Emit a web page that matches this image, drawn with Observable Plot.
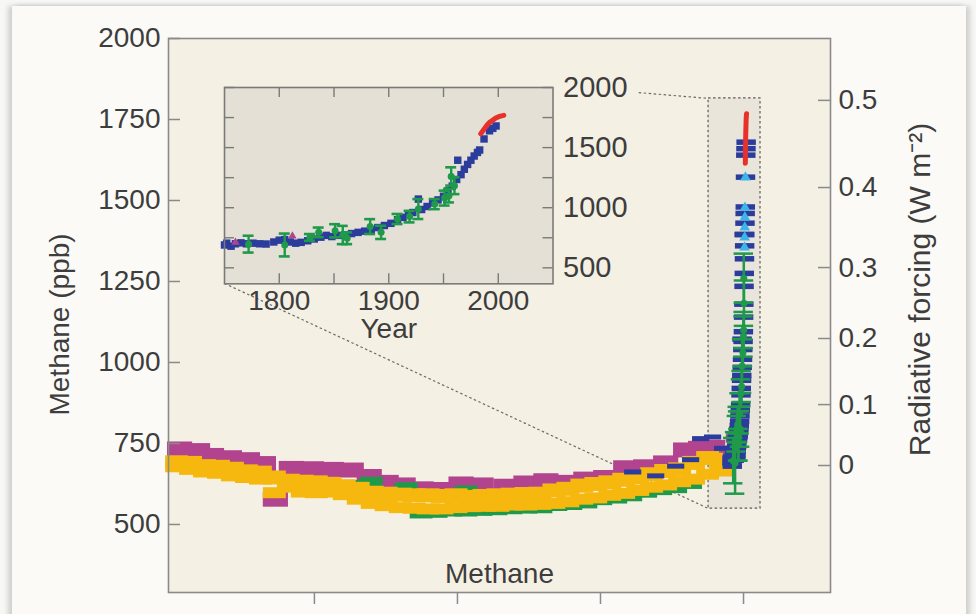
<!DOCTYPE html>
<html><head><meta charset="utf-8">
<script src="https://cdn.jsdelivr.net/npm/d3@7"></script>
<script src="https://cdn.jsdelivr.net/npm/@observablehq/plot@0.6"></script>
<style>
html,body{margin:0;padding:0;background:#f6f6f5;}
#page{position:relative;width:976px;height:614px;overflow:hidden;background:#f7f7f6;}
#panel{position:absolute;left:12px;top:6px;width:954px;height:640px;background:#fbfaf6;box-shadow:-4px 0 5px rgba(0,0,0,0.16),4px 0 5px rgba(0,0,0,0.16);}
#main{position:absolute;left:0;top:0;}
#inset{position:absolute;}
svg text{font-family:"Liberation Sans",Arial,sans-serif;}
</style></head>
<body><div id="page"><div id="panel"></div><div id="main"></div><div id="inset"></div></div>
<script>
// ---------- axes ----------
const timeTicks = [7500, 5000, 2500, 0];          // years before 2005 (unlabelled ticks)
const ppbTicks = [500, 750, 1000, 1250, 1500, 1750, 2000];
const rfLabels = ["0", "0.1", "0.2", "0.3", "0.4", "0.5"];   // radiative forcing (W m-2)
const rfAtPpb  = [682, 870, 1074, 1293, 1540, 1809];          // methane level of each RF tick
const insetYearTicks = [1800, 1850, 1900, 1950, 2000];
const insetYearLabels = [1800, 1900, 2000];
const insetPpbTicks = [500, 750, 1000, 1250, 1500, 1750, 2000];
const insetPpbLabels = [500, 1000, 1500, 2000];

// ---------- Holocene ice-core series (age: years before 2005, ppb) ----------
const magentaAge = [9857, 9543, 9299, 8985, 8671, 8391, 8182, 7903, 7554, 7205, 6856, 6542, 6246, 5949, 5635, 5321, 4937, 4588, 4152, 3803, 3454, 3105, 2756, 2408, 2059, 1710, 1361, 1012, 750, 541];
const magentaPpb = [733, 728, 713, 706, 700, 688, 578, 673, 672, 670, 668, 648, 630, 622, 610, 608, 625, 622, 618, 628, 635, 630, 640, 645, 675, 678, 690, 730, 735, 738];

const yellowAge = [9909, 9665, 9421, 9177, 8932, 8688, 8444, 8200, 7955, 7711, 7467, 7223, 6978, 6734, 6490, 6246, 6001, 5757, 5513, 5269, 5024, 4780, 4536, 4292, 4047, 3803, 3559, 3315, 3070, 2826, 2582, 2338, 2094, 1849, 1605, 1361, 1117, 872, 628, 401];
const yellowUpper = [692, 690, 680, 678, 672, 664, 660, 645, 635, 632, 630, 625, 618, 610, 598, 595, 592, 590, 590, 588, 590, 585, 588, 590, 592, 594, 595, 605, 610, 620, 625, 630, 638, 645, 655, 665, 670, 690, 705, 700];
const yellowLower = [678, 670, 662, 658, 650, 645, 640, 598, 615, 600, 598, 600, 592, 578, 565, 558, 552, 550, 548, 548, 552, 555, 556, 556, 560, 560, 562, 565, 570, 578, 582, 590, 596, 605, 615, 622, 632, 640, 655, 665];

const greenAge = [6769, 6507, 5897, 5635, 5373, 5112, 4850, 4850, 4588, 4327, 4065, 3803, 3541, 3280, 3018, 2756, 2495, 2233, 1971, 1710, 1448, 1186, 925];
const greenPpb = [622, 632, 615, 534, 536, 540, 540, 605, 542, 544, 547, 549, 550, 557, 560, 565, 575, 580, 587, 598, 606, 612, 625];

const blueAge = [1937, 1535, 1186, 925, 750, 541, 366];
const bluePpb = [662, 650, 680, 700, 765, 770, 735];

// ---------- industrial era (calendar year, ppb) ----------
const blueYear = [1750, 1752, 1756, 1760, 1765, 1770, 1776, 1782, 1788, 1795, 1800, 1805, 1810, 1815, 1820, 1826, 1832, 1838, 1843, 1848, 1854, 1860, 1866, 1872, 1878, 1884, 1890, 1896, 1902, 1908, 1913, 1918, 1922, 1927, 1930, 1935, 1940, 1945, 1950, 1954, 1958, 1962, 1963, 1966, 1969, 1972, 1975, 1978, 1981, 1983, 1987, 1992, 1995, 1998];
const blueYearPpb = [690, 705, 680, 700, 708, 700, 705, 700, 698, 715, 730, 735, 715, 705, 712, 725, 740, 755, 770, 760, 770, 775, 785, 795, 805, 818, 835, 852, 870, 900, 920, 945, 960, 1072, 985, 1010, 1040, 1065, 1095, 1140, 1180, 1235, 1395, 1275, 1320, 1360, 1395, 1430, 1460, 1480, 1572, 1640, 1660, 1680];

const greenYear = [1772, 1805, 1828, 1836, 1851, 1858, 1862, 1883, 1893, 1908, 1919, 1927, 1942, 1951, 1955, 1957, 1960];
const greenYearPpb = [697, 690, 753, 795, 808, 773, 746, 843, 795, 906, 926, 989, 1030, 1080, 1100, 1260, 1183];
const greenYearErr = [70, 95, 28, 40, 55, 76, 49, 62, 55, 42, 48, 83, 42, 62, 56, 76, 70];

const lightYear = [1970, 1972, 1974, 1976, 1978, 1986];
const lightYearPpb = [1355, 1386, 1417, 1448, 1478, 1571];

const magentaYear = [1760, 1812];
const magentaYearPpb = [712, 765];

const redYear = [1984, 1986, 1988, 1990, 1992, 1994, 1996, 1998, 2000, 2002, 2005];
const redYearPpb = [1615, 1640, 1665, 1690, 1710, 1722, 1735, 1748, 1755, 1762, 1768];

// ---------- zoom annotation (main-chart data coordinates) ----------
const zoomBox = {x1: 611, x2: -297, y1: 549, y2: 1815};
const insetBox = {x1: 9072, x2: 3330, y1: 1244, y2: 1850};
const connectors = [
  {x1: insetBox.x1, y1: insetBox.y1, x2: zoomBox.x1, y2: zoomBox.y1},
  {x1: 1832, y1: 1833, x2: zoomBox.x1, y2: zoomBox.y2}
];

// ---------- build tables ----------
const C = {magenta: "#b2438f", yellow: "#f6b80e", green: "#1f9a4a", blue: "#2b3c9d", light: "#3db5e8", red: "#e6322a", text: "#3d3d3d", axis: "#8a8a8a"};
const FS = 28;
const zip = (keys, ...arrs) => arrs[0].map((_, i) => Object.fromEntries(keys.map((k, j) => [k, arrs[j][i]])));
const magenta = zip(["age", "ppb"], magentaAge, magentaPpb);
const yellowU = zip(["age", "ppb"], yellowAge, yellowUpper);
const yellowL = zip(["age", "ppb"], yellowAge, yellowLower);
const greenH = zip(["age", "ppb"], greenAge, greenPpb);
const blueH = zip(["age", "ppb"], blueAge, bluePpb);
const blueM = zip(["year", "ppb"], blueYear, blueYearPpb);
const greenM = zip(["year", "ppb", "err"], greenYear, greenYearPpb, greenYearErr);
const lightM = zip(["year", "ppb"], lightYear, lightYearPpb);
const magentaM = zip(["year", "ppb"], magentaYear, magentaYearPpb);
const redM = zip(["year", "ppb"], redYear, redYearPpb);
const rf = zip(["label", "ppb"], rfLabels, rfAtPpb);
const age = d => 2005 - d.year;

const hbar = (data, x, half, color, width, extra = {}) =>
  Plot.link(data, {x1: d => x(d) + half, x2: d => x(d) - half, y1: "ppb", y2: "ppb", stroke: color, strokeWidth: width, ...extra});

const CAP = 170, SDX = 3;
const W = 976, H = 614, ML = 168, MR = 146, MT = 38, MB = 22;
const PW = W - ML - MR;

const main = Plot.plot({
  width: W, height: H, marginLeft: ML, marginRight: MR, marginTop: MT, marginBottom: MB,
  style: {background: "transparent", color: C.text, fontSize: FS + "px"},
  x: {domain: [10050, -1520], axis: null},
  y: {domain: [290, 2000], axis: null},
  marks: [
    Plot.frame({fill: "#f5f0e4", stroke: null}),
    Plot.rect([zoomBox], {x1: "x1", x2: "x2", y1: "y1", y2: "y2", fill: "#e9e5da", stroke: "#5a5a5a", strokeWidth: 1.2, strokeDasharray: "2.5,2.5"}),
    Plot.link(connectors, {x1: "x1", y1: "y1", x2: "x2", y2: "y2", stroke: "#6a6a6a", strokeWidth: 1.2, strokeDasharray: "2.5,2.5"}),
    hbar(magenta, d => d.age, 220, C.magenta, 15),
    hbar(greenH, d => d.age, 200, C.green, 10),
    hbar(yellowU, d => d.age, 200, C.yellow, 14),
    hbar(yellowL, d => d.age, 200, C.yellow, 11),
    hbar(blueH, d => d.age, 150, C.blue, 5),
    hbar(magentaM, age, CAP, C.magenta, 8, {dx: SDX}),
    hbar(blueM, age, CAP, C.blue, 5.5, {dx: SDX}),
    Plot.ruleX(greenM, {x: age, y1: d => d.ppb - d.err, y2: d => d.ppb + d.err, stroke: C.green, strokeWidth: 2.5, dx: SDX}),
    Plot.ruleY(greenM, {y: d => d.ppb - d.err, x1: d => age(d) + CAP, x2: d => age(d) - CAP, stroke: C.green, strokeWidth: 2.5, dx: SDX}),
    Plot.ruleY(greenM, {y: d => d.ppb + d.err, x1: d => age(d) + CAP, x2: d => age(d) - CAP, stroke: C.green, strokeWidth: 2.5, dx: SDX}),
    Plot.dot(greenM, {x: age, y: "ppb", r: 3.5, fill: C.green, dx: SDX}),
    Plot.dot(lightM, {x: age, y: "ppb", symbol: "triangle", r: 4, fill: C.light, dx: SDX}),
    Plot.line(redM, {x: age, y: "ppb", stroke: C.red, strokeWidth: 5, dx: SDX}),
    Plot.frame({stroke: C.axis, strokeWidth: 1.6}),
    Plot.tickY(ppbTicks, {y: d => d, insetRight: PW - 12, stroke: C.axis, strokeWidth: 1.5}),
    Plot.tickY(rf, {y: "ppb", insetLeft: PW - 12, stroke: C.axis, strokeWidth: 1.5}),
    Plot.axisX(timeTicks, {anchor: "bottom", tickSize: 12, tickFormat: () => "", stroke: C.axis, strokeWidth: 1.5, label: null}),
    Plot.text(ppbTicks, {y: d => d, text: d => String(d), frameAnchor: "left", textAnchor: "end", dx: -8, fontSize: FS, fill: C.text}),
    Plot.text(rf, {y: "ppb", text: "label", frameAnchor: "right", textAnchor: "start", dx: 8, fontSize: FS, fill: C.text}),
    Plot.text(["Methane (ppb)"], {frameAnchor: "left", textAnchor: "middle", lineAnchor: "middle", rotate: -90, dx: -108, dy: 9, fontSize: FS, fill: C.text}),
    Plot.text(["Radiative forcing (W m\u207B\u00B2)"], {frameAnchor: "right", textAnchor: "middle", lineAnchor: "middle", rotate: -90, dx: 90, dy: -26, fontSize: 30, fill: C.text}),
    Plot.text(["Methane"], {frameAnchor: "bottom", lineAnchor: "bottom", dy: -10, fontSize: FS, fill: C.text})
  ]
});
document.getElementById("main").appendChild(main);

// ---------- inset ----------
const IML = 12, IMT = 22, IMR = 100, IMB = 64;
const sx = main.scale("x"), sy = main.scale("y");
const iLeft = sx.apply(insetBox.x1), iRight = sx.apply(insetBox.x2);
const iTop = sy.apply(insetBox.y2), iBottom = sy.apply(insetBox.y1);
const IW = iRight - iLeft, IH = iBottom - iTop;
const ICAP = 5;

const inset = Plot.plot({
  width: IW + IML + IMR, height: IH + IMT + IMB,
  marginLeft: IML, marginRight: IMR, marginTop: IMT, marginBottom: IMB,
  style: {background: "transparent", color: C.text, fontSize: FS + "px", overflow: "visible"},
  x: {domain: [1750, 2050], axis: null},
  y: {domain: [367, 2000], axis: null},
  marks: [
    Plot.frame({fill: "#e4e0d5", stroke: null}),
    Plot.dot(blueM, {x: "year", y: "ppb", symbol: "square", r: 4.2, fill: C.blue}),
    Plot.dot(magentaM, {x: "year", y: "ppb", symbol: "triangle2", r: 4, fill: C.magenta}),
    Plot.ruleX(greenM, {x: "year", y1: d => d.ppb - d.err, y2: d => d.ppb + d.err, stroke: C.green, strokeWidth: 2.4}),
    Plot.ruleY(greenM, {y: d => d.ppb - d.err, x1: d => d.year - ICAP, x2: d => d.year + ICAP, stroke: C.green, strokeWidth: 2.6}),
    Plot.ruleY(greenM, {y: d => d.ppb + d.err, x1: d => d.year - ICAP, x2: d => d.year + ICAP, stroke: C.green, strokeWidth: 2.6}),
    Plot.dot(greenM, {x: "year", y: "ppb", r: 3.5, fill: C.green}),
    Plot.line(redM, {x: "year", y: "ppb", stroke: C.red, strokeWidth: 5}),
    Plot.frame({stroke: "#7a7a7a", strokeWidth: 1.6}),
    Plot.tickX(insetYearTicks, {x: d => d, insetBottom: IH - 10, stroke: "#7a7a7a", strokeWidth: 1.4}),
    Plot.tickX(insetYearTicks, {x: d => d, insetTop: IH - 10, stroke: "#7a7a7a", strokeWidth: 1.4}),
    Plot.tickY(insetPpbTicks, {y: d => d, insetRight: IW - 10, stroke: "#7a7a7a", strokeWidth: 1.4}),
    Plot.tickY(insetPpbTicks, {y: d => d, insetLeft: IW - 10, stroke: "#7a7a7a", strokeWidth: 1.4}),
    Plot.text(insetYearLabels, {x: d => d, text: d => String(d), frameAnchor: "bottom", lineAnchor: "top", dy: 6, fontSize: FS, fill: C.text}),
    Plot.text(insetPpbLabels, {y: d => d, text: d => String(d), frameAnchor: "right", textAnchor: "start", dx: 10, fontSize: 29, fill: C.text}),
    Plot.text(["Year"], {frameAnchor: "bottom", lineAnchor: "middle", dy: 45, fontSize: FS, fill: C.text})
  ]
});
const holder = document.getElementById("inset");
holder.style.left = (iLeft - IML) + "px";
holder.style.top = (iTop - IMT) + "px";
holder.appendChild(inset);
</script>
</body></html>
